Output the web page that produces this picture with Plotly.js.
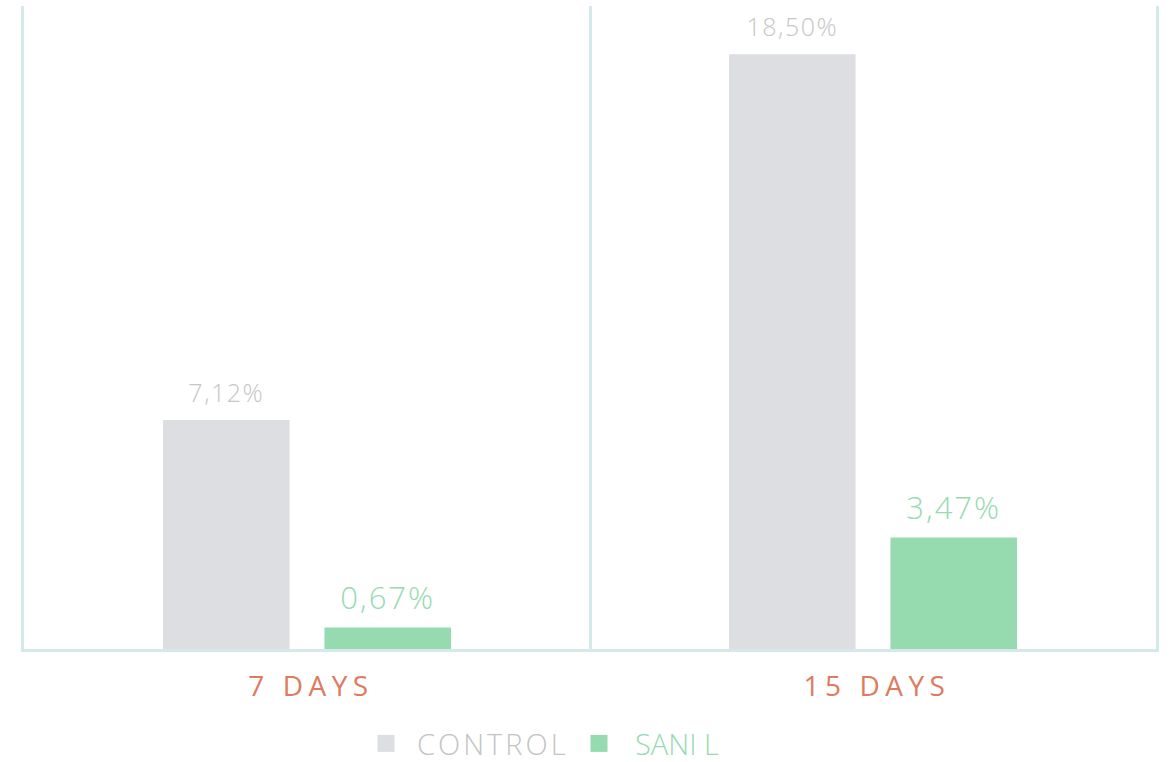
<!DOCTYPE html>
<html>
<head>
<meta charset="utf-8">
<script src="https://cdn.plot.ly/plotly-3.0.1.min.js"></script>
<style>
html,body{margin:0;padding:0;background:#fff;}
#chart{width:1171px;height:762px;}
.xtick text{letter-spacing:5.5px;}
.legendtext{letter-spacing:3px;}
</style>
</head>
<body>
<div id="chart"></div>
<script>
const categories = ["7 DAYS", "15 DAYS"];
const controlValues = [7.12, 18.50];
const saniValues = [0.67, 3.47];
const seriesNames = ["CONTROL", "SANI L"];

const fmt = v => v.toFixed(2).replace(".", ",") + "%";
const FONT = "Open Sans, Lato, sans-serif";
const GRAY_TEXT = "#c6c6c6", GREEN = "#96dbb0", GRAY_BAR = "#dddee2";

const traces = [
  {
    type: "bar", name: seriesNames[0], x: categories, y: controlValues,
    marker: {color: GRAY_BAR}, offsetgroup: "c", alignmentgroup: "a",
    textposition: "none", hoverinfo: "none", legend: "legend"
  },
  {
    type: "bar", name: seriesNames[1], x: categories, y: saniValues,
    marker: {color: GREEN}, offsetgroup: "s", alignmentgroup: "a",
    textposition: "none", hoverinfo: "none", legend: "legend2"
  },
  {
    type: "scatter", mode: "markers+text", x: categories, y: controlValues,
    offsetgroup: "c", alignmentgroup: "a", showlegend: false,
    marker: {size: 18, opacity: 0, color: GRAY_BAR},
    text: controlValues.map(fmt), textposition: "top center",
    textfont: {family: FONT, size: 25, color: GRAY_TEXT, weight: 300},
    cliponaxis: false, hoverinfo: "none"
  },
  {
    type: "scatter", mode: "markers+text", x: categories, y: saniValues,
    offsetgroup: "s", alignmentgroup: "a", showlegend: false,
    marker: {size: 16, opacity: 0, color: GREEN},
    text: saniValues.map(fmt), textposition: "top center",
    textfont: {family: FONT, size: 31, color: GREEN, weight: 300},
    cliponaxis: false, hoverinfo: "none"
  }
];

const lineColor = "#d5e8ea";
const legendBase = {
  orientation: "h", xanchor: "left", y: -0.147, yanchor: "middle",
  bgcolor: "rgba(0,0,0,0)"
};
const layout = {
  width: 1171, height: 762,
  margin: {l: 24, r: 15, t: 6, b: 113, autoexpand: false},
  paper_bgcolor: "#ffffff", plot_bgcolor: "#ffffff",
  barmode: "group", bargap: 0.4296, bargroupgap: 0.216,
  scattermode: "group", scattergap: 0.4296,
  showlegend: true,
  legend: Object.assign({}, legendBase, {
    x: (386 - 24 - 31) / 1132, itemwidth: 52,
    font: {family: FONT, size: 29, color: "#c4c4c4", weight: 300}
  }),
  legend2: Object.assign({}, legendBase, {
    x: (599 - 24 - 36) / 1132, itemwidth: 62,
    font: {family: FONT, size: 29, color: GREEN, weight: 300}
  }),
  xaxis: {
    type: "category", tickson: "boundaries", showgrid: true,
    gridcolor: lineColor, gridwidth: 3,
    showline: true, linecolor: lineColor, linewidth: 3,
    ticks: "", ticklabelstandoff: 10, ticklabelshift: 4,
    tickfont: {family: FONT, size: 28, color: "#e07a5f", weight: 400},
    fixedrange: true
  },
  yaxis: {
    range: [0, 20], showgrid: false, zeroline: false,
    showline: true, mirror: true, linecolor: lineColor, linewidth: 3,
    showticklabels: false, ticks: "", fixedrange: true
  }
};

Plotly.newPlot("chart", traces, layout, {displayModeBar: false, staticPlot: true}).then(() => {
  document.querySelectorAll(".legendpoints path").forEach(p => {
    p.setAttribute("d", "M8.5,8.5H-8.5V-8.5H8.5Z");
  });
  document.querySelectorAll(".textpoint text").forEach(t => {
    const big = parseFloat(t.style.fontSize) > 28;
    t.style.letterSpacing = big ? "2px" : "1.5px";
  });
});
</script>
</body>
</html>
